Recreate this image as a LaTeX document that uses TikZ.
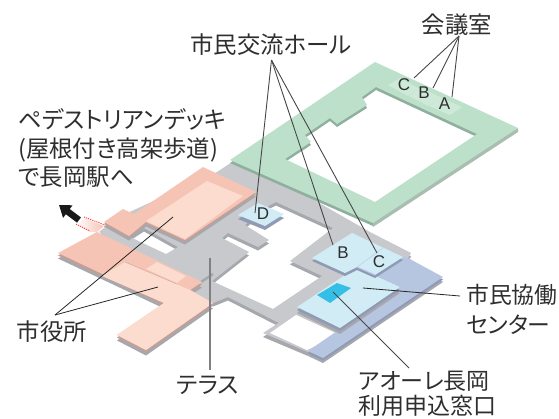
\documentclass[tikz,border=0pt]{standalone}
\usepackage{fontspec}
\setmainfont[RawFeature={+palt}]{Noto Sans CJK JP}
\newfontfamily\latinf{Liberation Sans}
\usetikzlibrary{arrows.meta}
\definecolor{tgrey}{HTML}{C8C9CD}
\definecolor{tdark}{HTML}{A7A8AE}
\definecolor{gtop}{HTML}{BCE0C9}
\definecolor{gdark}{HTML}{8FB09E}
\definecolor{gside}{HTML}{A9BDB0}
\definecolor{groom}{HTML}{CFE9D9}
\definecolor{psal}{HTML}{F5C4B5}
\definecolor{plight}{HTML}{FCDCCF}
\definecolor{pdark}{HTML}{C2A097}
\definecolor{btop}{HTML}{B6C6E0}
\definecolor{bslate}{HTML}{8F9BB5}
\definecolor{blight}{HTML}{D2ECF5}
\definecolor{bcyan}{HTML}{35BFE6}
\definecolor{ink}{HTML}{2E2E2E}
\tikzset{
  lab/.style={font=\fontsize{23.4}{28.4}\selectfont, text=ink, inner sep=0pt},
  roomlab/.style={font=\latinf\fontsize{17}{17}\selectfont, text=ink, inner sep=0pt},
  leader/.style={draw=black!72, line width=0.9pt},
  leaderdark/.style={draw=black!85, line width=0.8pt},
  leadergrey/.style={draw=black!50, line width=1.2pt},
  walk/.style={draw=red!75!white, dash pattern=on 1.2pt off 1pt, line width=0.9pt}
}
\def\terrace{(99,232) -- (105,227) -- (123,215) -- (217,172) -- (232,162) -- (300,192) -- (370,232) -- (411,253) -- (408,258) -- (380,280) -- (297,312) -- (279,323) -- (228,297) -- (213,303) -- (190,290) -- cycle
 (130,237) -- (144,228) -- (178,247) -- (166,254) -- cycle
 (276,202) -- (333,228) -- (290,261) -- (322,276) -- (273,309) -- (212,281) -- (249,252) -- (222,238) -- (228,233) -- (258,247) -- (269,240) -- (245,225) -- (270,205) -- cycle}
\def\greenbody{(375,62) -- (518,128) -- (373,223) -- (230,160) -- cycle
 (376,87) -- (477,134) -- (375,202) -- (285,159) -- (311,142) -- (305,135) -- (330,118) -- (337,124) -- (367,105) -- (362,97) -- cycle}
\def\pinkup{(104,222) -- (123,209) -- (134,214) -- (203,167) -- (256,192) -- (185,240) -- (146,222) -- (129,236) -- cycle}
\def\pinklow{(58,253) -- (97,232) -- (202,282) -- (190,290) -- (213,303) -- (146,350) -- (117,335) -- (164,303) -- cycle}
\def\frameb{(263,333) -- (297,311) -- (340,330) -- (308,352) -- cycle}
\def\mainblue{(297,307) -- (357,267) -- (400,287) -- (340,328) -- cycle}
\def\darkblue{(308,351) -- (340,329) -- (400,287) -- (375,275) -- (403,257) -- (408,258) -- (443,277) -- (323,358) -- cycle}
\def\bcbox{(352,233) -- (403,257) -- (375,275) -- (357,267) -- (345,273) -- (312,258) -- cycle}
\def\dbox{(238,215) -- (258,203) -- (284,214) -- (265,226) -- cycle}
\begin{document}
\begin{tikzpicture}[x=1pt,y=-1pt]
\useasboundingbox (0,0) rectangle (559,418);
% terrace
\fill[tdark,even odd rule,yshift=-3.5pt] \terrace;
\fill[tgrey,even odd rule] \terrace;
\draw[tdark,line width=2.5pt] (213,274) -- (201,282);
% frame
\fill[tdark,yshift=-4pt] \frameb;
\fill[tgrey] \frameb;
\fill[white] (270,333) -- (296,315) -- (340,335) -- (307,350) -- cycle;
% D
\fill[bslate,yshift=-4pt] \dbox;
\fill[blight] \dbox;
% green
\fill[gdark,even odd rule,yshift=-3pt] \greenbody;
\fill[gside] (518,128) -- (518,132) -- (373,227) -- (373,223) -- cycle;
\fill[gtop,even odd rule] \greenbody;
\fill[groom] (388,85) -- (400,78) -- (420,89) -- (408,96) -- cycle;
\fill[groom] (409,96) -- (422,88) -- (442,98) -- (428,106) -- cycle;
\fill[groom] (429,106) -- (442,98) -- (462,107) -- (450,115) -- cycle;
% walkway
\shade[left color=white,right color=psal] (84,218) -- (104,226) -- (97,232) -- (90,232) -- (76,225) -- cycle;
\draw[walk] (84,217) -- (105,225);
\draw[walk] (76,224) -- (90,231);
% pink upper
\fill[tdark,yshift=-4.5pt] \pinkup;
\fill[pdark,yshift=-2pt] \pinkup;
\fill[psal] \pinkup;
\fill[plight] (146,221) -- (207,181) -- (243,196) -- (185,239) -- cycle;
% pink lower
\fill[tdark,yshift=-5.5pt] \pinklow;
\fill[pdark,yshift=-2.5pt] \pinklow;
\fill[psal] \pinklow;
\fill[plight] (102,276) -- (125,262) -- (190,290) -- (213,303) -- (146,350) -- (117,335) -- (164,303) -- cycle;
\fill[plight] (146,269) -- (157,262) -- (186,276) -- (177,283) -- cycle;
\draw[pdark!70!psal,line width=0.5pt] (125,262) -- (177,284);
% blue
\fill[tdark,yshift=-5pt] \darkblue;
\fill[bslate,yshift=-2.5pt] \darkblue;
\fill[btop] \darkblue;
\fill[tdark,yshift=-6pt] \mainblue;
\fill[bslate,yshift=-3pt] \mainblue;
\fill[blight] \mainblue;
\fill[bslate,yshift=-3pt] \bcbox;
\fill[blight] \bcbox;
\draw[btop,line width=1pt] (357,267) -- (375,275);
\draw[btop!60!blight,line width=0.7pt] (357,267) -- (383,248);
\fill[bcyan] (317,295) -- (337,283) -- (351,288) -- (330,303) -- cycle;
% arrow
\coordinate (arrowtail) at (79,220);
\coordinate (arrowhead) at (59,205);
\draw[black!90,line width=6.5pt,-{Triangle[length=11pt,width=15pt]}] (arrowtail) -- (arrowhead);
% room labels
\node[roomlab] (ra) at (444.5,104) {A};
\node[roomlab] (rb) at (424,93) {B};
\node[roomlab] (rc) at (404,84.5) {C};
\node[roomlab] (hb) at (343,253) {B};
\node[roomlab] (hc) at (379,262) {C};
\node[roomlab] (hd) at (263,214) {D};
% labels
\node[lab] (kaigi) at (457,25) {会議室};
\node[lab] (hall) at (271,45) {市民交流ホール};
\node[lab,anchor=north west,align=left] (deck) at (18,108.5) {ペデストリアンデッキ\\(屋根付き高架歩道)\\で長岡駅へ};
\node[lab,anchor=west,align=left,font=\fontsize{22.8}{30}\selectfont] (kyodo) at (466,309) {市民協働\\センター};
\node[lab] (yaku) at (52,332) {市役所};
\node[lab] (terr) at (208,385) {テラス};
\node[lab,anchor=west,align=left,font=\fontsize{23}{24.5}\selectfont] (aore) at (358,394) {アオーレ長岡\\利用申込窓口};
% leader anchors
\coordinate (kaigitip) at (459,36);
\coordinate (hallc) at (271.5,60);
\coordinate (yakutip) at (55,315);
\coordinate (rct) at (414,78);
\coordinate (rbt) at (433,88);
\coordinate (rat) at (452,97);
\coordinate (dt) at (255,213);
\coordinate (bt) at (333,245);
\coordinate (ct) at (377,253);
\coordinate (y1) at (173,217);
\coordinate (y2) at (158,287);
\coordinate (tt1) at (210,258);
\coordinate (tt2) at (210,370);
\coordinate (kt1) at (363,288);
\coordinate (kt2) at (460,296);
\coordinate (at1) at (333,292);
\coordinate (at2) at (409,368);
\draw[leader] (kaigitip) -- (rct);
\draw[leader] (kaigitip) -- (rbt);
\draw[leader] (kaigitip) -- (rat);
\draw[leader] (hallc) -- (dt);
\draw[leader] (hallc) -- (bt);
\draw[leader] (hallc) -- (ct);
\draw[leaderdark] (yakutip) -- (y1);
\draw[leaderdark] (yakutip) -- (y2);
\draw[leadergrey] (tt1) -- (tt2);
\draw[leaderdark] (kt1) -- (kt2);
\draw[leader] (at1) -- (at2);
\end{tikzpicture}
\end{document}
